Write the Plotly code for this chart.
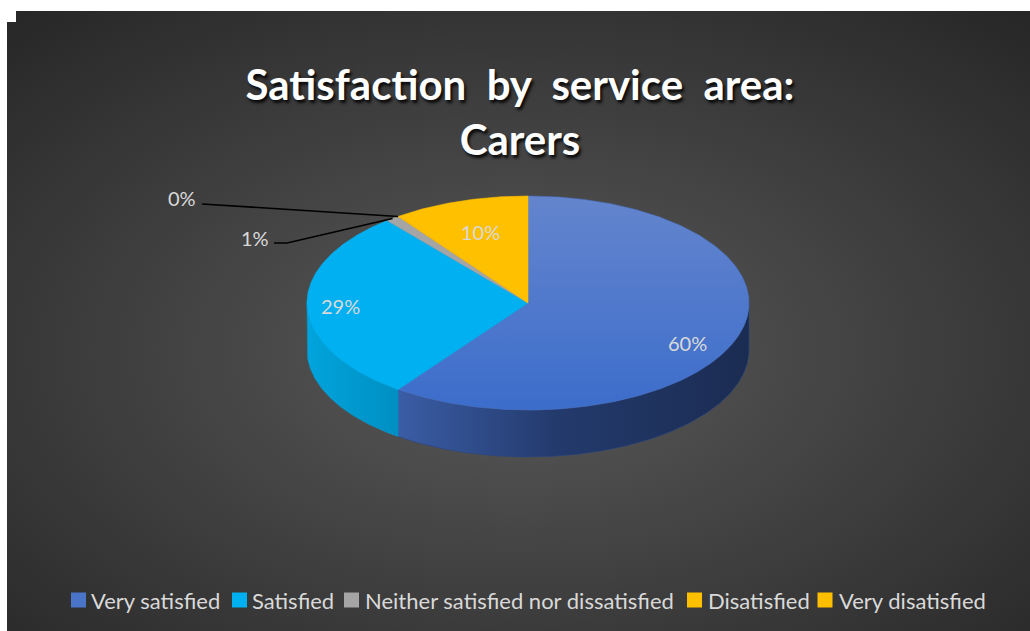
import base64
import numpy as np
import plotly.graph_objects as go

# ---- data -------------------------------------------------------------
categories = [
    "Very satisfied",
    "Satisfied",
    "Neither satisfied nor dissatisfied",
    "Disatisfied",
    "Very disatisfied",
]
shares = [60, 29, 1, 10, 0]

# ---- styling ----------------------------------------------------------
top_fill = ["#4a74c8", "#00b0f0", "#a5a5a5", "#ffc000", "#ffbf00"]
top_grad = {0: [[0, "#6485cd"], [1, "#3c6dcb"]]}
side_fill = ["#2a4580", "#0099d0", "#8a8a8a", "#d9a300", "#d9a300"]
side_grad = {
    0: [[0, "#3b5da6"], [0.45, "#233a6c"], [1, "#1b2c52"]],
    1: [[0, "#00a4dc"], [1, "#008fc2"]],
}
legend_fill = ["#4a74c8", "#00b0f0", "#a5a5a5", "#ffc000", "#ffbf00"]

FONT = "Lato"
TEXT_COL = "#d9d9d9"
W, H = 1030, 631

# tilted pie geometry (pixel units on hidden axes)
CX, CY, RX, RY, DEPTH = 528, 303, 221, 107, 47

# inside-label placement: radial factor and vertical nudge per slice
label_k = [0.76, 0.85, None, 0.70, None]
label_dy = [15, 0, 0, 0, 0]
# outside labels: text anchor, elbow of leader line
outside = {
    2: dict(text_xy=(271, 238), elbow=[(274, 243), (287, 243)]),
    4: dict(text_xy=(198, 198), elbow=[(202, 204)]),
}

# legend layout
legend_sq_x = [78.5, 239.5, 351.5, 694.5, 825]
legend_txt_x = [89, 250, 363, 706, 837]
legend_y = 600


def ellipse(theta_deg, dy=0.0):
    t = np.radians(theta_deg)
    return CX + RX * np.sin(t), CY - RY * np.cos(t) + dy


total = float(sum(shares))
bounds = np.concatenate([[0.0], np.cumsum(shares) / total * 360.0])

fig = go.Figure()

# side walls (front half of the disc: 90..270 degrees clockwise from top)
for i, v in enumerate(shares):
    a0, a1 = max(bounds[i], 90.0), min(bounds[i + 1], 270.0)
    if v <= 0 or a1 <= a0:
        continue
    th = np.linspace(a0, a1, max(3, int((a1 - a0) * 2)))
    xt, yt = ellipse(th)
    xb, yb = ellipse(th[::-1], DEPTH)
    xs = np.concatenate([xt, xb, xt[:1]])
    ys = np.concatenate([yt, yb, yt[:1]])
    tr = dict(x=xs, y=ys, mode="lines", fill="toself",
              line=dict(width=0.6, color=side_fill[i]),
              hoverinfo="skip", showlegend=False)
    if i in side_grad:
        tr["fillgradient"] = dict(type="horizontal", colorscale=side_grad[i],
                                  start=float(xs.min()), stop=float(xs.max()))
    else:
        tr["fillcolor"] = side_fill[i]
    fig.add_trace(go.Scatter(**tr))

# top surface slices
for i, v in enumerate(shares):
    if v <= 0:
        continue
    a0, a1 = bounds[i], bounds[i + 1]
    th = np.linspace(a0, a1, max(3, int((a1 - a0) * 2)))
    xa, ya = ellipse(th)
    xs = np.concatenate([[CX], xa, [CX]])
    ys = np.concatenate([[CY], ya, [CY]])
    tr = dict(x=xs, y=ys, mode="lines", fill="toself",
              line=dict(width=0.6, color=top_fill[i]),
              hoverinfo="text", text=f"{categories[i]}: {v}%",
              showlegend=False)
    if i in top_grad:
        tr["fillgradient"] = dict(type="vertical", colorscale=top_grad[i],
                                  start=CY - RY, stop=CY + RY)
    else:
        tr["fillcolor"] = top_fill[i]
    fig.add_trace(go.Scatter(**tr))

annotations = []
label_font = dict(family=FONT, size=20, color=TEXT_COL)

# inside data labels
for i, v in enumerate(shares):
    if label_k[i] is None:
        continue
    mid = (bounds[i] + bounds[i + 1]) / 2
    t = np.radians(mid)
    lx = CX + RX * np.sin(t) * label_k[i]
    ly = CY - RY * np.cos(t) * label_k[i] + label_dy[i]
    annotations.append(dict(x=lx, y=ly, xref="x", yref="y", text=f"{v}%",
                            showarrow=False, font=label_font))

# outside data labels with leader lines
attach_angle = {2: (bounds[2] + bounds[3]) / 2, 4: bounds[3]}
for i, spec in outside.items():
    ex, ey = ellipse(attach_angle[i])
    pts = spec["elbow"] + [(float(ex), float(ey))]
    fig.add_trace(go.Scatter(x=[p[0] for p in pts], y=[p[1] for p in pts],
                             mode="lines", line=dict(color="black", width=1.6),
                             hoverinfo="skip", showlegend=False))
    tx, ty = spec["text_xy"]
    annotations.append(dict(x=tx, y=ty, xref="x", yref="y",
                            text=f"{shares[i]}%", showarrow=False,
                            xanchor="right", font=label_font))

# legend swatches and captions
fig.add_trace(go.Scatter(x=legend_sq_x, y=[legend_y] * len(legend_sq_x),
                         mode="markers",
                         marker=dict(symbol="square", size=15,
                                     color=legend_fill, line=dict(width=0)),
                         hoverinfo="skip", showlegend=False))
for name, x in zip(categories, legend_txt_x):
    annotations.append(dict(x=x, y=legend_y, xref="x", yref="y", text=name,
                            showarrow=False, xanchor="left", yanchor="middle",
                            font=dict(family=FONT, size=22, color=TEXT_COL)))

# radial background gradient
svg = (
    '<svg xmlns="http://www.w3.org/2000/svg" width="1000" height="600" '
    'preserveAspectRatio="none">'
    '<defs><radialGradient id="g" cx="0.5" cy="0.55" r="0.75">'
    '<stop offset="0" stop-color="#5a5a5a"/>'
    '<stop offset="1" stop-color="#262626"/>'
    '</radialGradient></defs>'
    '<rect width="1000" height="600" fill="url(#g)"/></svg>'
)
bg_uri = "data:image/svg+xml;base64," + base64.b64encode(svg.encode()).decode()

x0, y0 = 7, 11
fig.update_layout(
    width=W, height=H,
    margin=dict(l=0, r=0, t=0, b=0),
    paper_bgcolor="white",
    plot_bgcolor="rgba(0,0,0,0)",
    xaxis=dict(range=[0, W], visible=False, fixedrange=True),
    yaxis=dict(range=[H, 0], visible=False, fixedrange=True),
    images=[dict(source=bg_uri, xref="paper", yref="paper",
                 x=x0 / W, y=1 - y0 / H, sizex=(W - x0) / W,
                 sizey=(H - y0) / H, xanchor="left", yanchor="top",
                 sizing="stretch", layer="below")],
    shapes=[dict(type="rect", xref="x", yref="y", x0=x0, x1=16, y0=y0, y1=22,
                 fillcolor="white", line=dict(width=0), layer="above")],
    title=dict(
        text="Satisfaction  by  service  area:<br>Carers",
        x=520 / W, xanchor="center",
        y=1 - 100 / H, yanchor="top", yref="paper",
        font=dict(family=FONT, size=42, color="white", weight="bold",
                  shadow="2px 3px 3px rgba(0,0,0,0.85)"),
    ),
    annotations=annotations,
    showlegend=False,
    hovermode="closest",
)

fig.write_html("out.html")
